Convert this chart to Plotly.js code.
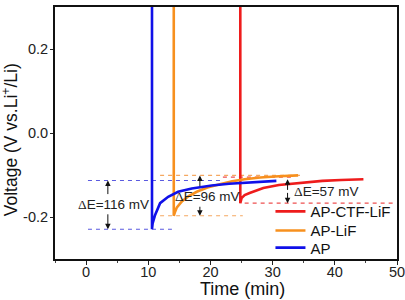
<!DOCTYPE html>
<html>
<head>
<meta charset="utf-8">
<script src="https://cdn.plot.ly/plotly-3.0.1.min.js"></script>
<style>
  html, body { margin: 0; padding: 0; background: #fff; }
  #chart { width: 405px; height: 300px; }
</style>
</head>
<body>
<div id="chart"></div>
<script>
// Galvanostatic relaxation curves: voltage after each pulse, vs. time
const seriesNames = ['AP-CTF-LiF', 'AP-LiF', 'AP'];

const apTime = [10.6, 10.6, 10.7, 11.1, 11.9, 13.2, 14.8, 17.0, 20.2, 23.0, 25.8, 28.5, 30.6];
const apVolt = [0.5, -0.229, -0.215, -0.195, -0.167, -0.152, -0.140, -0.132, -0.125, -0.121, -0.119, -0.116, -0.114];

const apLiFTime = [14.1, 14.1, 14.3, 14.6, 15.4, 16.5, 17.8, 19.5, 21.5, 23.5, 25.5, 28.0, 31.0, 34.1];
const apLiFVolt = [0.5, -0.197, -0.188, -0.177, -0.163, -0.150, -0.140, -0.130, -0.122, -0.115, -0.110, -0.106, -0.103, -0.101];

const ctfTime = [24.8, 24.8, 25.0, 25.5, 26.3, 28.5, 31.0, 34.9, 38.0, 41.0, 44.6];
const ctfVolt = [0.5, -0.167, -0.155, -0.148, -0.143, -0.131, -0.124, -0.118, -0.114, -0.112, -0.110];

// Guide levels (start, end, voltage) used for the ΔE read-outs
const apGuideUpper = { t: [0.3, 22.0], v: -0.113 };
const apGuideLower = { t: [0.3, 13.8], v: -0.229 };
const apLiFGuideUpper = { t: [11.9, 34.4], v: -0.101 };
const apLiFGuideLower = { t: [11.9, 25.2], v: -0.197 };
const ctfGuideUpper = { t: [22.0, 33.0], v: -0.105 };
const ctfGuideLower = { t: [25.5, 49.3], v: -0.167 };

// ΔE read-outs in mV
const deltaLabels = ['116', '96', '57'];
const deltaValues = [0.116, 0.096, 0.057];

const xTickVals = [0, 10, 20, 30, 40, 50];
const yTickVals = [-0.2, 0.0, 0.2];
const yTickText = ['-0.2', '0.0', '0.2'];

const colors = { ap: '#1010e8', apLiF: '#f7901e', ctf: '#ee1c1c' };
const guideColors = { ap: '#5a5ae0', apLiF: '#f5a860', ctf: '#ee5050' };
const sans = 'Liberation Sans, Arial, sans-serif';

function guide(g, color) {
  return {
    x: g.t, y: [g.v, g.v], mode: 'lines', showlegend: false, hoverinfo: 'skip',
    line: { color: color, width: 1.1, dash: '4px,4px' }
  };
}

const traces = [
  guide(apGuideUpper, guideColors.ap),
  guide(apGuideLower, guideColors.ap),
  guide(ctfGuideUpper, guideColors.ctf),
  guide(apLiFGuideUpper, guideColors.apLiF),
  guide(apLiFGuideLower, guideColors.apLiF),
  guide(ctfGuideLower, guideColors.ctf),
  { x: ctfTime, y: ctfVolt, mode: 'lines', name: seriesNames[0], legend: 'legend', line: { color: colors.ctf, width: 2.6 } },
  { x: apLiFTime, y: apLiFVolt, mode: 'lines', name: seriesNames[1], legend: 'legend2', line: { color: colors.apLiF, width: 2.6 } },
  { x: apTime, y: apVolt, mode: 'lines', name: seriesNames[2], legend: 'legend3', line: { color: colors.ap, width: 2.6 } }
];

function arrow(t, from, to) {
  return {
    x: t, y: to, ax: t, ay: from, xref: 'x', yref: 'y', axref: 'x', ayref: 'y',
    text: '', showarrow: true, arrowhead: 2, arrowsize: 1.1, arrowwidth: 1, arrowcolor: '#111'
  };
}

function deltaText(i, t, v) {
  return {
    x: t, y: v, xref: 'x', yref: 'y', showarrow: false,
    text: '<span style="font-family:\'Liberation Serif\'">Δ</span>E=' + deltaLabels[i] + ' mV',
    font: { family: sans, size: 13.5, color: '#222' }
  };
}

const annotations = [
  // AP
  arrow(3.5, -0.149, apGuideLower.v + deltaValues[0]),
  arrow(3.5, -0.190, apGuideLower.v),
  deltaText(0, 4.4, -0.171),
  // AP-LiF
  arrow(18.3, -0.130, apLiFGuideLower.v + deltaValues[1]),
  arrow(18.3, -0.172, apLiFGuideLower.v),
  deltaText(1, 19.6, -0.152),
  // AP-CTF-LiF
  arrow(32.4, -0.139, ctfGuideLower.v + deltaValues[2]),
  arrow(32.4, -0.139, ctfGuideLower.v),
  deltaText(2, 38.6, -0.140),
  // axis titles
  {
    xref: 'paper', yref: 'paper', x: 0.547, y: -0.119, xanchor: 'center', yanchor: 'middle',
    showarrow: false, text: 'Time (min)', font: { family: sans, size: 18, color: '#111' }
  },
  {
    xref: 'paper', yref: 'paper', x: -0.131, y: 0.472, xanchor: 'center', yanchor: 'middle',
    showarrow: false, textangle: -90, text: 'Voltage (V vs.Li<sup>+</sup>/Li)',
    font: { family: sans, size: 17.5, color: '#111' }
  }
];

const tickFont = { family: sans, size: 14.5, color: '#222' };

function legendAt(y) {
  return {
    x: 0.63, y: y, xanchor: 'left', yanchor: 'middle',
    font: { family: sans, size: 15, color: '#111' },
    bgcolor: 'rgba(0,0,0,0)', itemwidth: 30
  };
}

const layout = {
  width: 405, height: 300,
  margin: { l: 55, r: 8, t: 7, b: 41 },
  paper_bgcolor: '#fff', plot_bgcolor: '#fff',
  showlegend: true,
  legend: legendAt(0.188),
  legend2: legendAt(0.112),
  legend3: legendAt(0.044),
  xaxis: {
    range: [-5, 50], tickvals: xTickVals, ticks: 'outside', ticklen: 4, tickwidth: 1,
    tickcolor: '#222', showgrid: false, zeroline: false,
    showline: true, linecolor: '#111', linewidth: 2, mirror: true,
    minor: { dtick: 5, tick0: 0, ticks: 'outside', ticklen: 2, tickcolor: '#444', showgrid: false },
    tickfont: tickFont, ticklabelstandoff: -5, ticklabeloverflow: 'allow'
  },
  yaxis: {
    range: [-0.3, 0.3], tickvals: yTickVals, ticktext: yTickText, ticks: 'outside', ticklen: 3, tickwidth: 1,
    tickcolor: '#222', showgrid: false, zeroline: false,
    showline: true, linecolor: '#111', linewidth: 2, mirror: true,
    tickfont: tickFont, ticklabelstandoff: -1
  },
  annotations: annotations
};

Plotly.newPlot('chart', traces, layout, { displayModeBar: false, staticPlot: true });
</script>
</body>
</html>
